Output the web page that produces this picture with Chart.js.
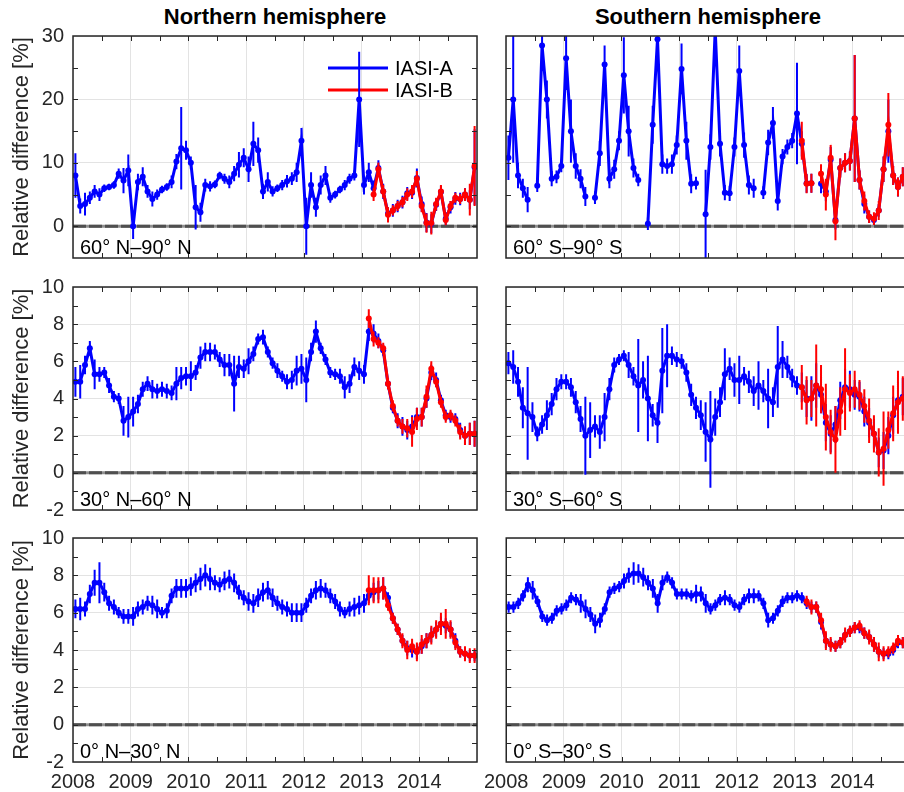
<!DOCTYPE html>
<html lang="en">
<head>
  <meta charset="UTF-8" />
  <title>IASI-A / IASI-B relative difference</title>
  <script src="https://cdn.jsdelivr.net/npm/chart.js"></script>
  <style>
    html, body { margin: 0; padding: 0; background: #fff; overflow: hidden; }
    #page { position: relative; width: 904px; height: 792px; overflow: hidden; }
    canvas { position: absolute; }
    .hemi { position: absolute; top: 4px; line-height: 26px; text-align: center;
            font: bold 22px "Liberation Sans", Arial, sans-serif; color: #000; }
  </style>
</head>
<body>
<div id="page">
  <div class="hemi" style="left:73px;width:404px">Northern hemisphere</div>
  <div class="hemi" style="left:506px;width:404px">Southern hemisphere</div>
  <canvas id="nhPolar"></canvas>
  <canvas id="shPolar"></canvas>
  <canvas id="nhMid"></canvas>
  <canvas id="shMid"></canvas>
  <canvas id="nhTrop"></canvas>
  <canvas id="shTrop"></canvas>
</div>

<script>
  // monthly values, Jan 2008 .. Dec 2014; IASI-B starts at month index 61
  const startYear = 2008;
  const bStart = 61;
  const yearTicks = [2008, 2009, 2010, 2011, 2012, 2013, 2014, 2015];

  // 60N-90N
  const nhPolarA = [8, 3.2, 3.5, 4.5, 5.5, 5, 6, 6.2, 6.5, 8.3, 7.2, 8.8,
    0, 7, 7.8, 5.5, 4.3, 5, 5.8, 6.2, 7, 10.2, 12.3, 12,
    10, 3, 2.2, 6.5, 6.3, 6.6, 8, 7.5, 7, 8.3, 9.7, 10.8,
    9, 13, 12, 5.5, 7, 5.5, 6, 6.5, 7.1, 7.5, 8.5, 13.5,
    0, 6.5, 3, 6.5, 8, 4.5, 5, 5.8, 6.5, 7.5, 8, 20,
    6.5, 8.5, 6, 9.2, 5.5, 2, 2.5, 3.2, 3.8, 5.2, 5.3, 7.6,
    3.5, 0.6, 0.4, 3.4, 5.4, 1.2, 3, 4.4, 4.3, 5, 4.2, 9.3];
  const nhPolarAErr = [3.5, 1.2, 1.8, 1, 1, 1, 0.6, 0.5, 0.6, 0.8, 2, 2.5,
    2, 1.3, 1.5, 1, 1.2, 0.8, 0.6, 0.6, 1, 1.2, 6.5, 1.5,
    1, 3.5, 1.5, 1, 0.8, 0.6, 0.6, 0.8, 1, 1.2, 2, 1.5,
    2, 3.5, 2, 1.2, 1.5, 0.8, 0.6, 0.8, 1, 1, 1.5, 2,
    4.5, 2, 1.5, 1.5, 1.5, 0.8, 0.6, 0.6, 0.8, 0.8, 0.8, 7.5,
    1.5, 1.5, 1.2, 1.2, 1.2, 1, 1, 1, 1, 1, 1, 1.5,
    1.2, 1.5, 1.5, 1, 1, 1, 1, 1, 1, 1, 1.5, 6];
  const nhPolarB = [null, 5, 9, 5.5, 1.8, 2.5, 3.2, 3.8, 5, 5.5, 7.5, 3.2,
    0.5, 0.5, 3.5, 5.5, 1, 3.2, 4.5, 4.3, 5, 4.2, 9.5];
  const nhPolarBErr = [null, 1, 1, 1, 1.2, 0.8, 0.8, 0.8, 1, 1, 1.2, 1,
    1.5, 1.8, 1, 1, 0.8, 0.8, 0.8, 0.8, 1, 2.5, 6.3];

  // 60S-90S
  const shPolarA = [10.8, 20, 8, 6, 4.2, null, 6.4, 28.5, 20, 7.5, 7.8, 9.5,
    26.5, 15, 9.5, 7.5, 4.7, null, 4.5, 11.5, 25.5, 7.5, 9, 13.5,
    23.8, 15, 9.2, 7.3, null, 0.4, 16, 29.5, 9.8, 9.5, 9.8, 12.8,
    24.8, 13.5, 6.7, 6.8, null, 1.9, 12.5, 31, 13, 5.3, 5.2, 12.5,
    24.5, 12.8, 6.5, 6, null, 5.3, 13.2, 16.3, 4, 11, 12.5, 13.5,
    17.8, 13, 6.8, 6.8, null, 6.7, 5.5, 10.5, 1, 9.2, 10, 10.3,
    17, 7.3, 3.5, 1.5, 1, 2.5, 9, 15, 8, 6.2, 7.8, 7.5];
  const shPolarAErr = [3.5, 10, 2, 1.5, 2, null, 1, 4, 3, 1.2, 1, 1,
    5, 5, 2, 1.5, 1.5, null, 1, 2, 3, 1.5, 1.5, 1.5,
    6, 4, 1.5, 1, null, 1, 3, 4, 1.5, 1.2, 1.5, 1.5,
    4, 3, 1.5, 1, null, 7, 2, 4, 2, 1.2, 1.2, 1.5,
    4, 2, 1.5, 1.5, null, 1, 2, 2.5, 1.5, 1.2, 1.2, 1.2,
    8, 2, 1.5, 1.5, null, 1.5, 1.5, 2, 1.5, 1.5, 1.5, 1.5,
    10, 1.5, 1.5, 1, 0.8, 1, 2, 5, 1.5, 1.5, 1.5, 1.5];
  const shPolarB = [13.5, 6.7, 6.8, null, 8.3, 5, 10.8, 0.8, 9.2, 10, 10.3, 17,
    7.3, 4, 1.5, 1.2, 2.5, 9, 16, 8, 6.2, 7.8, 7.5];
  const shPolarBErr = [3, 1.5, 1.5, null, 1.5, 2.5, 2, 3, 1.5, 1.5, 1.5, 10,
    1.5, 1.5, 1, 1, 1.5, 2, 5, 1.5, 1.5, 1.5, 1.5];

  // 30N-60N
  const nhMidA = [4.9, 4.9, 5.8, 6.7, 5.3, 5.3, 5.4, 4.7, 4.1, 4, 2.8, 3,
    3.3, 3.7, 4.5, 4.8, 4.5, 4.4, 4.5, 4.4, 4.3, 4.8, 5.1, 5.2,
    5.2, 5.4, 6.2, 6.5, 6.5, 6.5, 6.1, 5.8, 5.8, 4.8, 5.7, 5.6,
    6, 6.4, 7.2, 7.3, 6.5, 5.9, 5.5, 5.2, 4.9, 5, 5.5, 5.6,
    5, 6.5, 7.6, 6.7, 6.1, 5.4, 5.3, 5.2, 4.6, 4.8, 5.7, 5.5,
    5.3, 7.6, 7.5, 7.1, 6.6, 4.8, 3.5, 2.8, 2.5, 2.3, 2.5, 3,
    3, 4, 5.4, 5, 3.9, 3.1, 3, 2.9, 2.3, 2, 2.1, 2.1];
  const nhMidAErr = [0.8, 0.9, 0.5, 0.4, 0.8, 0.4, 0.3, 0.4, 0.3, 0.3, 0.8, 1.1,
    0.8, 0.5, 0.4, 0.4, 0.5, 0.4, 0.4, 0.4, 0.4, 0.9, 0.6, 0.5,
    0.8, 0.4, 0.6, 0.5, 0.5, 0.4, 0.4, 0.6, 0.6, 1.5, 0.6, 0.5,
    0.7, 0.4, 0.3, 0.4, 0.3, 0.3, 0.4, 0.3, 0.4, 0.5, 0.8, 0.8,
    1.2, 0.5, 0.6, 0.3, 0.3, 0.3, 0.3, 0.4, 0.6, 0.5, 0.5, 0.5,
    0.5, 0.5, 0.5, 0.4, 0.3, 0.3, 0.3, 0.4, 0.5, 0.5, 0.6, 0.5,
    0.5, 0.5, 0.4, 0.4, 0.3, 0.3, 0.3, 0.3, 0.4, 0.5, 0.6, 0.7];
  const nhMidB = [8.3, 7.2, 7, 6.7, 4.8, 3.6, 2.8, 2.5, 2.4, 2.2, 2.9, 3,
    4.1, 5.6, 4.9, 3.8, 3, 3.1, 2.8, 2.2, 2, 2.1, 2.1];
  const nhMidBErr = [0.5, 0.4, 0.3, 0.3, 0.3, 0.3, 0.3, 0.4, 0.5, 0.8, 0.6, 0.5,
    0.6, 0.4, 0.3, 0.3, 0.3, 0.3, 0.3, 0.4, 0.5, 0.6, 0.7];

  // 30S-60S
  const shMidA = [5.9, 5.7, 4.9, 3.5, 3.2, 3, 2.1, 2.6, 3.1, 3.7, 4.5, 4.9,
    4.9, 4.6, 3.8, 2.9, 2, 2.3, 2.5, 2.2, 3, 4.5, 5.8, 6.1,
    6.3, 5.8, 5.2, 4.7, 5, 4, 3.1, 2.7, 5.5, 6.3, 6.3, 6.1,
    6, 5.4, 4.2, 3.5, 3.1, 2.2, 1.8, 3, 3.8, 5.3, 5.6, 5,
    5, 5.2, 4.9, 4.4, 4.7, 4.4, 4, 3.8, 5.7, 6.1, 5.7, 5.1,
    4.7, 4.6, 4, 4, 4.7, 4.2, 2.7, 2.1, 2.6, 3.9, 4.6, 4.5,
    4.2, 4.1, 3.3, 2.7, 2.1, 1.1, 1.2, 2, 3.1, 3.9, 4.1, 4];
  const shMidAErr = [0.6, 0.9, 0.8, 1.1, 2.5, 0.8, 0.4, 0.5, 0.8, 0.6, 0.6, 0.4,
    0.4, 0.5, 0.6, 0.7, 2.1, 1.5, 0.6, 0.9, 1.3, 0.6, 0.4, 0.3,
    0.3, 0.7, 0.5, 2.5, 1, 2.3, 0.6, 1.1, 2.3, 1.7, 0.5, 0.4,
    0.4, 0.5, 0.6, 0.6, 0.8, 1.6, 2.6, 1, 0.8, 1.4, 0.6, 0.9,
    1.3, 0.5, 0.6, 0.8, 1.3, 0.6, 1.6, 0.8, 2.2, 1, 0.6, 0.5,
    0.5, 0.8, 1, 1.2, 1.2, 1, 1, 1, 1, 1, 1, 1,
    0.8, 0.8, 0.8, 0.8, 0.8, 0.8, 1, 1, 1, 1, 1, 1];
  const shMidB = [4.6, 3.9, 4, 4.7, 4.5, 3, 2.2, 1.8, 3.3, 4.5, 4.3, 4.5,
    4.2, 3.6, 2.8, 2.1, 1.1, 1.3, 2.3, 3.2, 3.8, 4, 4];
  const shMidBErr = [1.2, 1.3, 1, 2.2, 1.3, 1.8, 1.2, 1.8, 1.3, 2.2, 1, 1,
    0.8, 0.9, 1.2, 1, 1.3, 2, 1, 1.5, 1.7, 1.2, 1.2];

  // 0N-30N
  const nhTropA = [6.2, 6.2, 6.2, 7, 7.6, 7.6, 7.1, 6.5, 6.3, 6, 5.8, 5.8,
    5.8, 6.2, 6.3, 6.5, 6.4, 6.2, 6, 6.1, 6.9, 7.3, 7.3, 7.3,
    7.4, 7.6, 7.8, 8, 7.8, 7.6, 7.5, 7.7, 7.8, 7.6, 7.1, 6.8,
    6.6, 6.5, 6.8, 7.1, 7.2, 6.8, 6.5, 6.3, 6.2, 6, 6, 6,
    6.4, 6.9, 7.2, 7.3, 7.2, 6.9, 6.6, 6.2, 6, 6.2, 6.3, 6.4,
    6.5, 6.9, 7.1, 7.2, 7.3, 6.8, 5.7, 5.1, 4.5, 4.1, 4, 3.9,
    4.2, 4.5, 4.8, 5.1, 5.4, 5.3, 5.1, 4.5, 3.9, 3.8, 3.7, 3.7];
  const nhTropAErr = [0.5, 0.6, 0.4, 0.5, 0.7, 1.1, 0.5, 0.4, 0.4, 0.3, 0.4, 0.4,
    0.5, 0.4, 0.4, 0.4, 0.5, 0.5, 0.3, 0.4, 0.4, 0.5, 0.5, 0.5,
    0.5, 0.5, 0.6, 0.6, 0.6, 0.4, 0.4, 0.5, 0.5, 0.5, 0.4, 0.4,
    0.5, 0.5, 0.5, 0.5, 0.5, 0.5, 0.4, 0.4, 0.4, 0.5, 0.5, 0.5,
    0.4, 0.4, 0.5, 0.5, 0.4, 0.4, 0.4, 0.4, 0.3, 0.4, 0.5, 0.5,
    0.5, 0.4, 0.5, 0.5, 0.6, 0.3, 0.3, 0.3, 0.3, 0.4, 0.4, 0.4,
    0.4, 0.4, 0.4, 0.4, 0.4, 0.4, 0.4, 0.4, 0.3, 0.3, 0.3, 0.3];
  const nhTropB = [7.2, 7.2, 7.2, 7.3, 6.4, 5.7, 5.1, 4.5, 4, 4.2, 3.9, 4.3,
    4.5, 4.8, 5.1, 5.4, 5.4, 5.1, 4.4, 3.9, 3.8, 3.7, 3.7];
  const nhTropBErr = [0.8, 0.7, 0.7, 0.6, 0.3, 0.3, 0.3, 0.4, 0.5, 0.4, 0.5, 0.5,
    0.4, 0.5, 0.5, 0.6, 0.8, 0.5, 0.4, 0.3, 0.4, 0.4, 0.4];

  // 0S-30S
  const shTropA = [6.3, 6.3, 6.5, 6.9, 7.5, 7.2, 6.6, 5.8, 5.6, 5.7, 6.1, 6.2,
    6.4, 6.8, 6.7, 6.5, 6.2, 5.9, 5.4, 5.6, 6.2, 7.1, 7.3, 7.4,
    7.7, 8, 8.1, 8.1, 7.9, 7.6, 7.3, 6.5, 7.6, 7.9, 7.6, 7,
    7, 7, 6.9, 7, 7, 6.5, 6.2, 6.4, 6.7, 6.8, 6.7, 6.4,
    6.3, 6.7, 6.9, 6.9, 6.9, 6.5, 5.6, 5.7, 6.1, 6.6, 6.8, 6.8,
    6.9, 6.8, 6.5, 6.3, 6.3, 5.5, 4.5, 4.3, 4.2, 4.4, 4.8, 5,
    5.2, 5.2, 4.9, 4.7, 4.3, 3.9, 3.8, 3.8, 4, 4.4, 4.4, 4.5];
  const shTropAErr = [0.3, 0.3, 0.3, 0.3, 0.4, 0.5, 0.3, 0.3, 0.3, 0.3, 0.3, 0.3,
    0.3, 0.3, 0.3, 0.5, 0.5, 0.4, 0.5, 0.4, 0.3, 0.3, 0.3, 0.3,
    0.4, 0.4, 0.6, 0.5, 0.5, 0.4, 0.5, 0.5, 0.4, 0.3, 0.3, 0.3,
    0.3, 0.3, 0.3, 0.5, 0.4, 0.5, 0.3, 0.3, 0.3, 0.4, 0.3, 0.3,
    0.3, 0.3, 0.4, 0.4, 0.3, 0.3, 0.4, 0.3, 0.3, 0.3, 0.3, 0.3,
    0.3, 0.3, 0.3, 0.3, 0.3, 0.4, 0.4, 0.3, 0.3, 0.3, 0.3, 0.3,
    0.3, 0.3, 0.3, 0.3, 0.4, 0.3, 0.3, 0.3, 0.3, 0.3, 0.3, 0.3];
  const shTropB = [null, 6.6, 6.3, 6.3, 5.6, 4.5, 4.3, 4.2, 4.4, 4.8, 5, 5.2,
    5.3, 4.9, 4.7, 4.3, 3.9, 3.8, 3.9, 4.1, 4.5, 4.4, 4.5];
  const shTropBErr = [null, 0.3, 0.4, 0.3, 0.4, 0.5, 0.4, 0.3, 0.3, 0.4, 0.3, 0.3,
    0.3, 0.3, 0.4, 0.4, 0.5, 0.4, 0.3, 0.3, 0.3, 0.3, 0.3];

  const polarTicks = [0, 10, 20, 30];
  const otherTicks = [-2, 0, 2, 4, 6, 8, 10];

  const FONT = '"Liberation Sans", Arial, sans-serif';
  // wanted plot-area boxes on the page
  const rows = [{ top: 36, h: 222 }, { top: 287, h: 223 }, { top: 538, h: 224 }];
  const cols = [{ left: 73, w: 404, canvasW: 480 }, { left: 506, w: 404, canvasW: 430 }];

  const panels = [
    { id: 'nhPolar', row: 0, col: 0, label: '60° N–90° N', a: nhPolarA, aErr: nhPolarAErr, b: nhPolarB, bErr: nhPolarBErr, ymin: -5, ymax: 30, ticks: polarTicks, minor: 5, legend: true },
    { id: 'shPolar', row: 0, col: 1, label: '60° S–90° S', a: shPolarA, aErr: shPolarAErr, b: shPolarB, bErr: shPolarBErr, ymin: -5, ymax: 30, ticks: polarTicks, minor: 5 },
    { id: 'nhMid', row: 1, col: 0, label: '30° N–60° N', a: nhMidA, aErr: nhMidAErr, b: nhMidB, bErr: nhMidBErr, ymin: -2, ymax: 10, ticks: otherTicks, minor: 1 },
    { id: 'shMid', row: 1, col: 1, label: '30° S–60° S', a: shMidA, aErr: shMidAErr, b: shMidB, bErr: shMidBErr, ymin: -2, ymax: 10, ticks: otherTicks, minor: 1 },
    { id: 'nhTrop', row: 2, col: 0, label: '0° N–30° N', a: nhTropA, aErr: nhTropAErr, b: nhTropB, bErr: nhTropBErr, ymin: -2, ymax: 10, ticks: otherTicks, minor: 1 },
    { id: 'shTrop', row: 2, col: 1, label: '0° S–30° S', a: shTropA, aErr: shTropAErr, b: shTropB, bErr: shTropBErr, ymin: -2, ymax: 10, ticks: otherTicks, minor: 1 }
  ];

  function monthTime(i) { return startYear + (i + 0.5) / 12; }
  function toPoints(values, offset) {
    return values.map((v, i) => ({ x: monthTime(i + offset), y: v }));
  }

  // zero line, error bars, box, inward ticks, region label, legend
  const panelDeco = {
    id: 'panelDeco',
    beforeDatasetsDraw(chart, _args, opts) {
      const { ctx, chartArea: a, scales: { y } } = chart;
      const y0 = y.getPixelForValue(0);
      ctx.save();
      ctx.lineWidth = 3;
      ctx.strokeStyle = '#8f8f8f';
      ctx.beginPath(); ctx.moveTo(a.left, y0); ctx.lineTo(a.right, y0); ctx.stroke();
      ctx.setLineDash([13, 3]);
      ctx.strokeStyle = '#4f4f4f';
      ctx.stroke();
      ctx.restore();

      if (opts.legend) {
        const x1 = a.right - 149, x2 = a.right - 89;
        const items = [['IASI-A', '#0000ff', a.top + 32], ['IASI-B', '#ff0000', a.top + 54]];
        ctx.save();
        ctx.font = '20px ' + FONT;
        ctx.textBaseline = 'middle';
        items.forEach(([txt, col, ly]) => {
          ctx.strokeStyle = col; ctx.lineWidth = 3;
          ctx.beginPath(); ctx.moveTo(x1, ly); ctx.lineTo(x2, ly); ctx.stroke();
          ctx.fillStyle = '#000';
          ctx.fillText(txt, x2 + 7, ly + 1);
        });
        ctx.restore();
      }
    },
    beforeDatasetDraw(chart, args) {
      const ds = chart.data.datasets[args.index];
      const { ctx, chartArea: a, scales: { y } } = chart;
      ctx.save();
      ctx.beginPath(); ctx.rect(a.left, a.top, a.width, a.height); ctx.clip();
      ctx.strokeStyle = ds.borderColor;
      ctx.lineWidth = 2;
      ctx.beginPath();
      ds.data.forEach((p, i) => {
        const e = ds.err[i];
        if (p.y == null || e == null) return;
        const px = args.meta.data[i].x;
        ctx.moveTo(px, y.getPixelForValue(p.y - e));
        ctx.lineTo(px, y.getPixelForValue(p.y + e));
      });
      ctx.stroke();
      ctx.restore();
    },
    afterDraw(chart, _args, opts) {
      const { ctx, chartArea: a, scales: { x, y } } = chart;
      ctx.save();
      ctx.strokeStyle = '#262626';
      ctx.lineWidth = 1.5;
      ctx.strokeRect(a.left, a.top, a.width, a.height);
      ctx.lineWidth = 1;
      ctx.beginPath();
      for (let t = startYear + 0.5; t < 2015; t += 0.5) {
        const px = Math.round(x.getPixelForValue(t)) + 0.5;
        ctx.moveTo(px, a.bottom); ctx.lineTo(px, a.bottom - 5);
        ctx.moveTo(px, a.top); ctx.lineTo(px, a.top + 5);
      }
      for (let v = opts.ymin + opts.minor; v < opts.ymax; v += opts.minor) {
        const py = Math.round(y.getPixelForValue(v)) + 0.5;
        ctx.moveTo(a.left, py); ctx.lineTo(a.left + 5, py);
        ctx.moveTo(a.right, py); ctx.lineTo(a.right - 5, py);
      }
      ctx.stroke();
      ctx.fillStyle = '#000';
      ctx.font = '20px ' + FONT;
      ctx.textBaseline = 'alphabetic';
      ctx.fillText(opts.label, a.left + 7, a.bottom - 4);
      ctx.restore();
    }
  };

  function makeChart(canvas, p) {
    const yw = p.col === 0 ? 73 : 24;
    return new Chart(canvas, {
      type: 'line',
      data: {
        datasets: [
          {
            label: 'IASI-A', data: toPoints(p.a, 0), err: p.aErr,
            borderColor: '#0000ff', backgroundColor: '#0000ff', order: 1
          },
          {
            label: 'IASI-B', data: toPoints(p.b, bStart), err: p.bErr,
            borderColor: '#ff0000', backgroundColor: '#ff0000', order: 0
          }
        ]
      },
      options: {
        responsive: false,
        maintainAspectRatio: false,
        animation: false,
        events: [],
        layout: { padding: { top: 16, right: 2, left: 0, bottom: 2 } },
        elements: {
          line: { borderWidth: 3, tension: 0 },
          point: { radius: 3, borderWidth: 0, hoverRadius: 3 }
        },
        plugins: {
          legend: { display: false },
          tooltip: { enabled: false },
          panelDeco: { label: p.label, legend: !!p.legend, ymin: p.ymin, ymax: p.ymax, minor: p.minor }
        },
        scales: {
          x: {
            type: 'linear', min: 2008, max: 2015,
            afterBuildTicks: s => { s.ticks = yearTicks.map(v => ({ value: v })); },
            grid: { color: '#e3e3e3', lineWidth: 1, drawTicks: false },
            border: { display: false },
            ticks: {
              display: p.row === 2, autoSkip: false, maxRotation: 0, padding: 8,
              color: '#262626', font: { family: FONT, size: 20 },
              callback: v => (v < 2015 ? String(v) : '')
            },
            afterFit: s => { s.height = p.row === 2 ? 32 : 14; }
          },
          y: {
            min: p.ymin, max: p.ymax,
            afterBuildTicks: s => { s.ticks = p.ticks.map(v => ({ value: v })); },
            grid: { color: '#e3e3e3', lineWidth: 1, drawTicks: false },
            border: { display: false },
            ticks: {
              display: p.col === 0, padding: 9, color: '#262626',
              font: { family: FONT, size: 20 }
            },
            title: {
              display: p.col === 0, text: 'Relative difference [%]', color: '#262626',
              font: { family: FONT, size: 22 }, padding: { top: 9, bottom: 0 }
            },
            afterFit: s => { s.width = yw; }
          }
        }
      },
      plugins: [panelDeco]
    });
  }

  panels.forEach(p => {
    const row = rows[p.row], col = cols[p.col];
    const canvas = document.getElementById(p.id);
    let cw = col.canvasW, chh = row.h + 50;
    canvas.width = cw; canvas.height = chh;
    let chart = makeChart(canvas, p);
    // fit the canvas so the plot area gets the wanted size, then place it
    const a = chart.chartArea;
    const dw = col.w - (a.right - a.left), dh = row.h - (a.bottom - a.top);
    if (Math.abs(dw) > 0.1 || Math.abs(dh) > 0.1) {
      chart.destroy();
      canvas.width = cw + dw; canvas.height = chh + dh;
      chart = makeChart(canvas, p);
    }
    canvas.style.left = (col.left - chart.chartArea.left) + 'px';
    canvas.style.top = (row.top - chart.chartArea.top) + 'px';
  });
</script>
</body>
</html>
